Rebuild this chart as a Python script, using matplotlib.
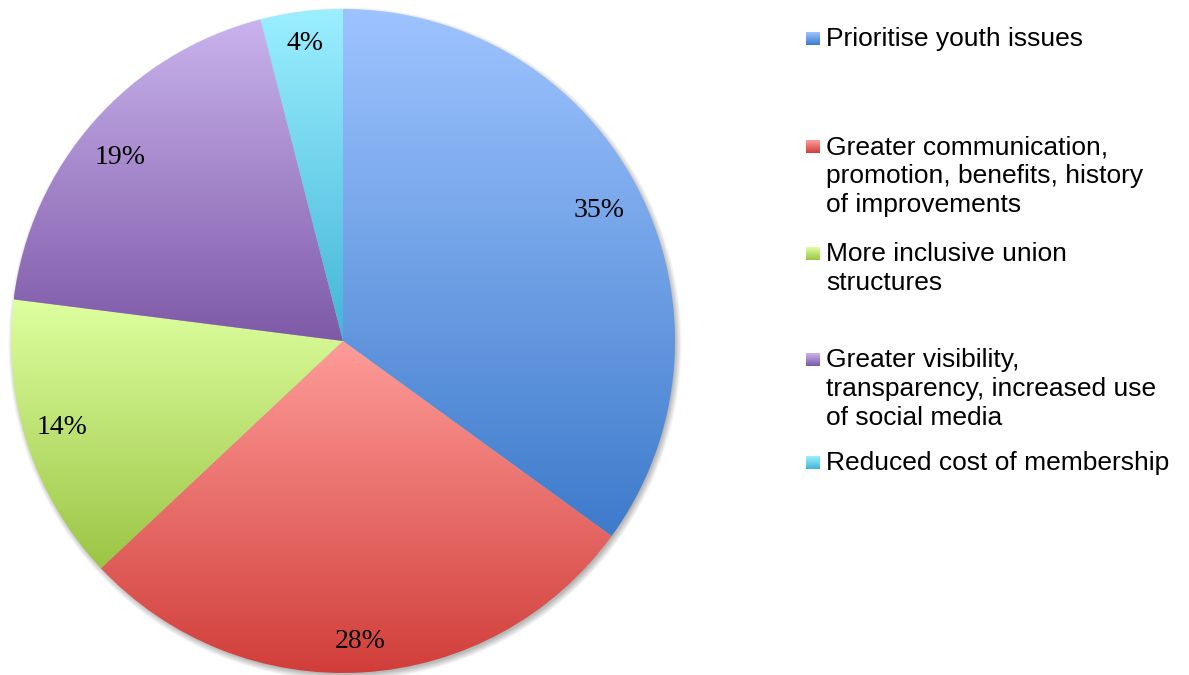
import numpy as np
import matplotlib
matplotlib.use("Agg")
import matplotlib.pyplot as plt
from matplotlib.colors import LinearSegmentedColormap

# Survey answers: what would make unions more attractive to young people
categories = [
    "Prioritise youth issues",
    "Greater communication,\npromotion, benefits, history\nof improvements",
    "More inclusive union\nstructures",
    "Greater visibility,\ntransparency, increased use\nof social media",
    "Reduced cost of membership",
]
shares = [35, 28, 14, 19, 4]
# gradient (top, bottom) colour for every slice
top_colors = ["#9EC4FF", "#FE9C99", "#DEFF9F", "#C9B3ED", "#9BEFFF"]
bottom_colors = ["#3E7BCB", "#D13E3A", "#9CC545", "#7E59A7", "#43B5D7"]
# placement of each percentage label: fraction of radius and angle nudge (deg)
label_dist = [0.864, 0.908, 0.886, 0.869, 0.902]
label_nudge = [0.0, -0.4, -0.8, 2.0, 0.1]

W, H = 1189, 675
fig = plt.figure(figsize=(W / 100, H / 100), dpi=100)
ax = fig.add_axes([0, 0, 1, 1])

cx, cy, R = 343, H - 341, 332

# soft shadow under the pie
yy, xx = np.mgrid[0:H, 0:W]
d = np.hypot(xx - (cx + 1.5), (H - yy) - (cy - 2.5))
alpha = 0.28 * np.clip(1 - (d - R + 2) / 7.0, 0, 1)
shadow = np.zeros((H, W, 4))
shadow[..., 3] = alpha
ax.imshow(shadow, extent=(0, W, 0, H), origin="upper", zorder=0)

wedges, _ = ax.pie(
    shares, center=(cx, cy), radius=R, startangle=90, counterclock=False,
    wedgeprops=dict(linewidth=0),
)

total = float(sum(shares))
for w, c0, c1, v, ld, nd in zip(wedges, top_colors, bottom_colors, shares,
                                label_dist, label_nudge):
    w.set_facecolor("none")
    w.set_zorder(1)
    bb = w.get_path().transformed(w.get_patch_transform()).get_extents()
    cmap = LinearSegmentedColormap.from_list("g", [c0, c1])
    grad = np.linspace(0, 1, 256).reshape(-1, 1)
    im = ax.imshow(grad, cmap=cmap, extent=(bb.x0, bb.x1, bb.y0, bb.y1),
                   origin="upper", aspect="auto", zorder=1,
                   interpolation="bilinear")
    im.set_clip_path(w)
    mid = np.deg2rad((w.theta1 + w.theta2) / 2 + nd)
    ax.text(cx + ld * R * np.cos(mid), cy + ld * R * np.sin(mid),
            f"{100 * v / total:.0f}%", family="Liberation Serif",
            fontsize=20, ha="center", va="center", zorder=3)

# legend drawn on the right
first_baseline = [46, 154, 261, 367, 470]
line_gap = 29
for lab, y, c0, c1 in zip(categories, first_baseline, top_colors, bottom_colors):
    yb = H - y
    cmap = LinearSegmentedColormap.from_list("g", [c0, c1])
    grad = np.linspace(0, 1, 64).reshape(-1, 1)
    ax.imshow(grad, cmap=cmap, extent=(806, 820, yb + 0.5, yb + 13.5),
              origin="upper", aspect="auto", zorder=2)
    for i, line in enumerate(lab.split("\n")):
        ax.text(826, yb - i * line_gap, line, family="Liberation Sans",
                fontsize=19, va="baseline", ha="left", zorder=3)

ax.set_xlim(0, W)
ax.set_ylim(0, H)
ax.set_aspect("auto")
ax.axis("off")

fig.savefig("out.png", dpi=100)
